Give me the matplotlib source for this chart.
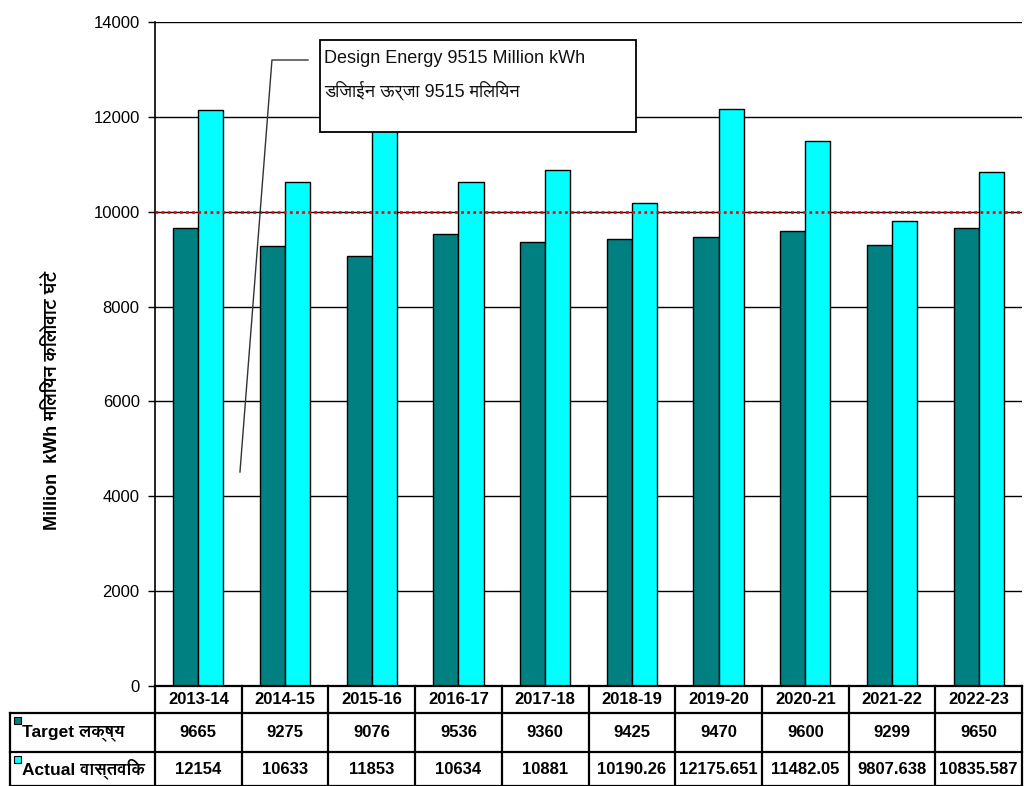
import matplotlib
matplotlib.use("Agg")
import matplotlib.pyplot as plt
import numpy as np
from matplotlib import font_manager
from matplotlib.ft2font import FT2Font

years = ["2013-14", "2014-15", "2015-16", "2016-17", "2017-18",
         "2018-19", "2019-20", "2020-21", "2021-22", "2022-23"]
target = [9665, 9275, 9076, 9536, 9360, 9425, 9470, 9600, 9299, 9650]
actual = [12154, 10633, 11853, 10634, 10881, 10190.26, 12175.651,
          11482.05, 9807.638, 10835.587]
target_txt = ["9665", "9275", "9076", "9536", "9360", "9425", "9470", "9600", "9299", "9650"]
actual_txt = ["12154", "10633", "11853", "10634", "10881", "10190.26", "12175.651",
              "11482.05", "9807.638", "10835.587"]
design_level = 10000

# pick a font with Devanagari glyphs, prefer a proportional sans one
cands = []
for f in font_manager.fontManager.ttflist:
    try:
        if 0x0915 in FT2Font(f.fname).get_charmap():
            score = 0
            if "mono" in f.name.lower():
                score += 10
            if "sans" not in f.name.lower():
                score += 1
            cands.append((score, f.name))
    except Exception:
        pass
cands.sort()
deva = cands[0][1] if cands else None

fams = ["Liberation Sans"] + ([deva] if deva else []) + ["DejaVu Sans"]

teal = "#008080"
cyan = "#00FFFF"

fig = plt.figure(figsize=(10.24, 7.86), dpi=100)
L, R, T, B = 155, 1022, 22, 686
W, H = 1024, 786
ax = fig.add_axes([L / W, 1 - B / H, (R - L) / W, (B - T) / H])

x = np.arange(len(years))
bw = 0.29
ax.bar(x - bw / 2, target, bw, color=teal, edgecolor="black", linewidth=1, zorder=3)
ax.bar(x + bw / 2, actual, bw, color=cyan, edgecolor="black", linewidth=1, zorder=3)
ax.axhline(design_level, color="red", linestyle=(0, (1, 1.2)), linewidth=2, zorder=4)

ax.set_xlim(-0.5, len(years) - 0.5)
ax.set_ylim(0, 14000)
ax.set_yticks(np.arange(0, 14001, 2000))
ax.set_yticklabels([str(v) for v in range(0, 14001, 2000)], fontsize=12, family="Liberation Sans")
ax.set_xticks([])
ax.yaxis.grid(True, color="black", linewidth=1, zorder=0)
ax.tick_params(axis="y", length=5, width=1, pad=6)
for s in ["top", "right", "bottom"]:
    ax.spines[s].set_visible(False)
ax.spines["left"].set_linewidth(1.2)

ax.set_ylabel("Million  kWh मिलियन किलोवाट घंटे", fontsize=13, fontweight="bold", family=fams)
ax.yaxis.set_label_coords(-0.108, 0.43)

# annotation box with leader line
box_x0, box_x1, box_y0, box_y1 = 1.403, 5.048, 11680, 13620
ax.add_patch(plt.Rectangle((box_x0, box_y0), box_x1 - box_x0, box_y1 - box_y0,
                           facecolor="white", edgecolor="black", linewidth=1.3, zorder=6))
ax.text(1.45, 13240, "Design Energy 9515 Million kWh", ha="left", va="center",
        fontsize=13, family=fams, color="#111111", zorder=7)
ax.text(1.45, 12560, "डिजाईन ऊर्जा 9515 मिलियन", ha="left", va="center",
        fontsize=13, family=fams, color="#111111", zorder=7)
ax.plot([1.265, 0.849, 0.480], [13199, 13199, 4512], color="#333333", linewidth=1, zorder=6)

# data table below the axes
rows_y = [686, 713, 752, 786]
ncol = len(years)
cw = (R - L) / ncol


def fx(px):
    return px / W


def fy(py):
    return 1 - py / H


lw = 1.6
for py in rows_y:
    x0 = L if py == 686 else 10
    fig.add_artist(plt.Line2D([fx(x0), fx(R)], [fy(py), fy(py)], color="black", lw=lw))
fig.add_artist(plt.Line2D([fx(10), fx(10)], [fy(713), fy(786)], color="black", lw=lw))
for i in range(ncol + 1):
    px = L + i * cw
    fig.add_artist(plt.Line2D([fx(px), fx(px)], [fy(686), fy(786)], color="black", lw=lw))

for i in range(ncol):
    cx = L + (i + 0.5) * cw
    fig.text(fx(cx), fy((686 + 713) / 2), years[i], ha="center", va="center",
             fontsize=12, fontweight="bold", family="Liberation Sans")
    fig.text(fx(cx), fy((713 + 752) / 2), target_txt[i], ha="center", va="center",
             fontsize=12, fontweight="bold", family="Liberation Sans")
    fig.text(fx(cx), fy((752 + 786) / 2), actual_txt[i], ha="center", va="center",
             fontsize=12, fontweight="bold", family="Liberation Sans")

# row labels with legend keys
for (lab, col, y0, y1) in [("Target लक्ष्य", teal, 713, 752), ("Actual वास्तविक", cyan, 752, 786)]:
    fig.add_artist(plt.Rectangle((fx(14), fy(y0 + 11)), 7 / W, 7 / H, facecolor=col,
                                 edgecolor="black", lw=0.8))
    fig.text(fx(22), fy((y0 + y1) / 2), lab, ha="left", va="center",
             fontsize=12.5, fontweight="bold", family=fams)

fig.savefig("out.png", dpi=100)
